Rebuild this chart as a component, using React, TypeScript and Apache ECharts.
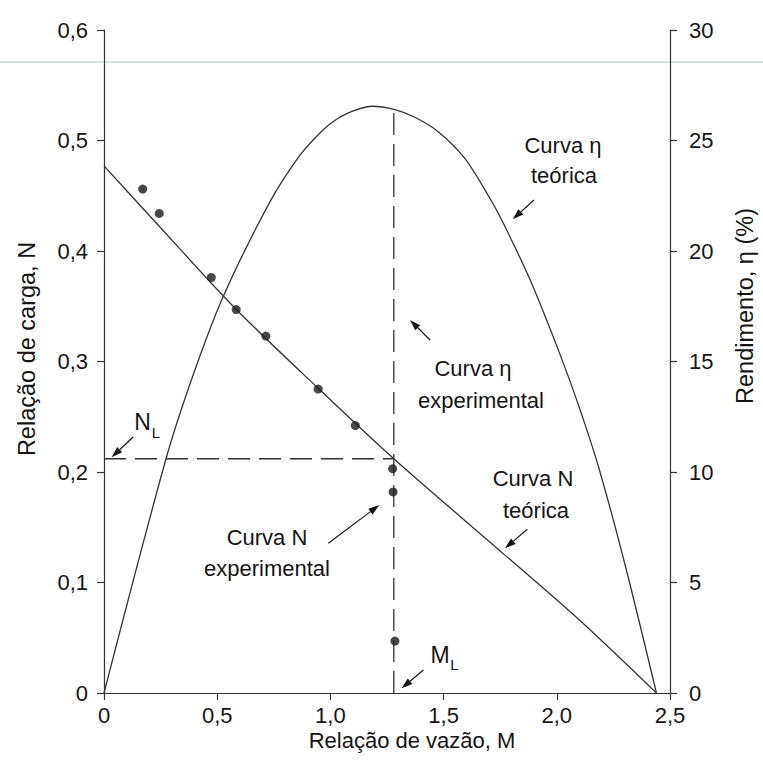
import React, { useEffect, useRef } from "react";
import * as echarts from "echarts";

// ---- Data ----
// Theoretical head ratio curve N(M)
const M_THEO = [0, 0.25, 0.58, 0.95, 1.28, 1.77, 2.1, 2.44];
const N_THEO = [0.477, 0.421, 0.348, 0.275, 0.212, 0.125, 0.066, 0];

// Theoretical efficiency curve eta(M) in %
const M_ETA = [0, 0.274, 0.394, 0.529, 0.737, 0.856, 0.931, 1.005, 1.079, 1.182, 1.285, 1.373, 1.476, 1.593, 1.712, 1.769, 1.884, 2.015, 2.1, 2.188, 2.304, 2.44];
const ETA_THEO = [0, 10.6, 14.4, 18.0, 22.3, 24.2, 25.1, 25.8, 26.25, 26.55, 26.4, 26.05, 25.4, 24.2, 22.25, 21.15, 18.65, 15.3, 12.9, 10.1, 5.7, 0];

// Experimental N points
const M_EXP = [0.171, 0.244, 0.474, 0.584, 0.715, 0.946, 1.11, 1.275, 1.277, 1.285];
const N_EXP = [0.456, 0.434, 0.376, 0.347, 0.323, 0.275, 0.242, 0.203, 0.182, 0.047];

// Limit values
const M_L = 1.28;
const N_L = 0.212;
const ETA_AT_ML = 26.4;

// Axis ticks
const X_TICKS = { min: 0, max: 2.5, interval: 0.5 };
const N_TICKS = { min: 0, max: 0.6, interval: 0.1 };
const ETA_TICKS = { min: 0, max: 30, interval: 5 };

const FONT = '"Liberation Sans", Arial, sans-serif';
const INK = "#151515";
const LINE = "#333333";

const commaFmt = (v: number) => (v === 0 ? "0" : v.toFixed(1).replace(".", ","));

function arrow(x1: number, y1: number, x2: number, y2: number) {
  const dx = x2 - x1;
  const dy = y2 - y1;
  const len = Math.sqrt(dx * dx + dy * dy);
  const ux = dx / len;
  const uy = dy / len;
  const hl = 11;
  const hw = 3.6;
  const bx = x2 - ux * hl;
  const by = y2 - uy * hl;
  const px = -uy;
  const py = ux;
  return [
    {
      type: "line",
      shape: { x1, y1, x2: bx, y2: by },
      style: { stroke: INK, lineWidth: 1.2 },
    },
    {
      type: "polygon",
      shape: {
        points: [
          [x2, y2],
          [bx + px * hw, by + py * hw],
          [bx - px * hw, by - py * hw],
        ],
      },
      style: { fill: INK },
    },
  ];
}

function txt(x: number, y: number, text: string, size = 22, extra: any = {}) {
  return {
    type: "text",
    x,
    y,
    ...extra,
    style: {
      text,
      fontSize: size,
      fontFamily: FONT,
      fill: INK,
      align: "center",
      verticalAlign: "middle",
    },
  };
}

export default function App() {
  const ref = useRef<HTMLDivElement>(null);

  useEffect(() => {
    if (!ref.current) return;
    const chart = echarts.init(ref.current, undefined, { renderer: "svg" });

    const nTheo = M_THEO.map((m, i) => [m, N_THEO[i]]);
    const etaTheo = M_ETA.map((m, i) => [m, ETA_THEO[i]]);
    const nExp = M_EXP.map((m, i) => [m, N_EXP[i]]);

    const axisLine = { show: true, lineStyle: { color: LINE, width: 1.2 } };
    const axisTick = { show: true, length: 7, lineStyle: { color: LINE, width: 1.2 } };
    const labelStyle = { color: INK, fontSize: 22, fontFamily: FONT };

    chart.setOption({
      animation: false,
      backgroundColor: "#ffffff",
      grid: { left: 104, right: 93, top: 30, bottom: 81, containLabel: false },
      xAxis: {
        type: "value",
        ...X_TICKS,
        axisLine,
        axisTick,
        splitLine: { show: false },
        axisLabel: { ...labelStyle, margin: 11, formatter: commaFmt },
      },
      yAxis: [
        {
          type: "value",
          position: "left",
          ...N_TICKS,
          axisLine,
          axisTick,
          splitLine: { show: false },
          axisLabel: { ...labelStyle, margin: 16, formatter: commaFmt },
        },
        {
          type: "value",
          position: "right",
          ...ETA_TICKS,
          axisLine,
          axisTick,
          splitLine: { show: false },
          axisLabel: { ...labelStyle, margin: 19 },
        },
      ],
      series: [
        {
          type: "line",
          name: "N teórica",
          yAxisIndex: 0,
          data: nTheo,
          symbol: "none",
          smooth: 0.3,
          lineStyle: { color: LINE, width: 1.3 },
        },
        {
          type: "line",
          name: "η teórica",
          yAxisIndex: 1,
          data: etaTheo,
          symbol: "none",
          smooth: 0.3,
          lineStyle: { color: LINE, width: 1.3 },
        },
        {
          type: "line",
          name: "N_L",
          yAxisIndex: 0,
          data: [
            [0, N_L],
            [M_L, N_L],
          ],
          symbol: "none",
          lineStyle: { color: LINE, width: 1.3, type: [22, 9] },
        },
        {
          type: "line",
          name: "M_L",
          yAxisIndex: 1,
          data: [
            [M_L, 0],
            [M_L, ETA_AT_ML],
          ],
          symbol: "none",
          lineStyle: { color: LINE, width: 1.3, type: [22, 9] },
        },
        {
          type: "scatter",
          name: "N experimental",
          yAxisIndex: 0,
          data: nExp,
          symbol: "circle",
          symbolSize: 9,
          itemStyle: { color: "#1a1a1a" },
          z: 5,
        },
      ],
      graphic: [
        {
          type: "line",
          shape: { x1: 0, y1: 62, x2: 763, y2: 62 },
          style: { stroke: "#d3e3d6", lineWidth: 2 },
          z: -1,
        },
        // Axis titles
        txt(412, 740, "Relação de vazão, M", 22),
        txt(27, 349, "Relação de carga, N", 23.5, { rotation: Math.PI / 2 }),
        txt(745, 306, "Rendimento, η (%)", 23.5, { rotation: Math.PI / 2 }),
        // Annotations
        txt(563, 145, "Curva η", 22),
        txt(564, 175, "teórica", 22),
        txt(473, 368, "Curva η", 22),
        txt(481, 400, "experimental", 22),
        txt(533, 478, "Curva N", 22),
        txt(536, 510, "teórica", 22),
        txt(267, 537, "Curva N", 22),
        txt(267, 568, "experimental", 22),
        txt(142.5, 422, "N", 23),
        txt(156, 432, "L", 15),
        txt(440, 655, "M", 23),
        txt(454.5, 664, "L", 15),
        ...arrow(534, 200, 512.7, 219.3),
        ...arrow(430, 340, 410, 320),
        ...arrow(527.3, 529.3, 505, 548.3),
        ...arrow(328.3, 543.3, 379.3, 505),
        ...arrow(133.3, 436.7, 111.7, 457.3),
        ...arrow(423.3, 670, 401.7, 688.3),
      ],
    });

    return () => chart.dispose();
  }, []);

  return (
    <div
      ref={ref}
      style={{ position: "fixed", left: 0, top: 0, width: 763, height: 774, background: "#fff" }}
    />
  );
}
